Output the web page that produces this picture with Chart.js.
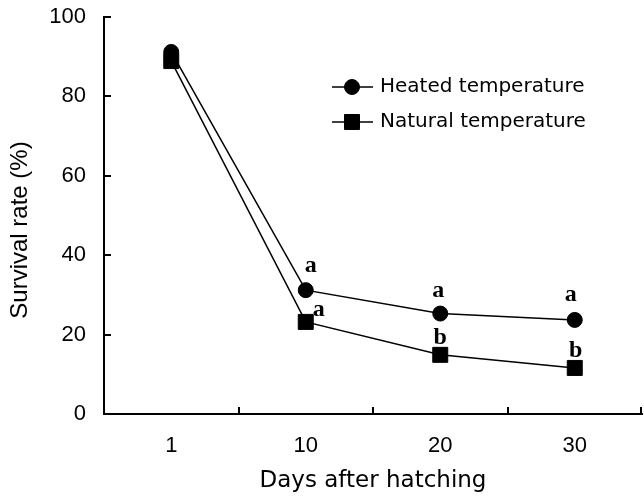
<!DOCTYPE html>
<html><head><meta charset="utf-8">
<script src="https://cdn.jsdelivr.net/npm/chart.js@4"></script>
<style>html,body{margin:0;padding:0;background:#fff;} canvas{display:block;}</style>
</head><body>
<canvas id="c" width="644" height="497"></canvas>
<script>
// ---- data ----
const categories = ['1', '10', '20', '30'];
const heated = [91.2, 31.2, 25.3, 23.7];
const natural = [88.9, 23.2, 14.9, 11.6];
const heatedLetters = ['', 'a', 'a', 'a'];
const naturalLetters = ['', 'a', 'b', 'b'];
const yTicks = [0, 20, 40, 60, 80, 100];
const seriesNames = ['Heated temperature', 'Natural temperature'];
const yTitle = 'Survival rate (%)';
const xTitle = 'Days after hatching';

// ---- style ----
const letterOffsets = [
  [[0, 0], [5, -18], [-2, -17], [-4, -19]],
  [[0, 0], [13, -6], [0, -11], [1, -11]]
];
const tickFont = {family: '"Liberation Sans", Arial, sans-serif', size: 22};

const axisTicksPlugin = {
  id: 'axisTicks',
  afterDraw(chart) {
    const {ctx, chartArea, scales} = chart;
    const x = scales.x, y = scales.y;
    ctx.save();
    ctx.strokeStyle = '#000';
    ctx.lineWidth = 2;
    ctx.beginPath();
    yTicks.forEach(v => {
      const py = Math.round(y.getPixelForValue(v));
      ctx.moveTo(chartArea.left, py);
      ctx.lineTo(chartArea.left + 7, py);
    });
    for (let i = 0; i < categories.length; i++) {
      let px;
      if (i < categories.length - 1) px = (x.getPixelForValue(i) + x.getPixelForValue(i + 1)) / 2;
      else px = chartArea.right - 1;
      px = Math.round(px);
      ctx.moveTo(px, chartArea.bottom);
      ctx.lineTo(px, chartArea.bottom - 7);
    }
    ctx.stroke();

    // significance letters
    ctx.fillStyle = '#000';
    ctx.font = 'bold 24px "Liberation Serif", "Times New Roman", serif';
    ctx.textAlign = 'center';
    ctx.textBaseline = 'alphabetic';
    [heatedLetters, naturalLetters].forEach((letters, di) => {
      const data = chart.data.datasets[di].data;
      letters.forEach((t, i) => {
        if (!t) return;
        const px = x.getPixelForValue(i) + letterOffsets[di][i][0];
        const py = y.getPixelForValue(data[i]) + letterOffsets[di][i][1];
        ctx.fillText(t, px, py);
      });
    });

    // y title
    ctx.save();
    ctx.translate(20, 230);
    ctx.rotate(-Math.PI / 2);
    ctx.font = '24px "Liberation Sans", Arial, sans-serif';
    ctx.textAlign = 'center';
    ctx.textBaseline = 'middle';
    ctx.fillText(yTitle, 0, 0);
    ctx.restore();

    // legend
    chart.data.datasets.forEach((ds, i) => {
      const ly = 87 + i * 35;
      ctx.beginPath();
      ctx.lineWidth = 1.5;
      ctx.moveTo(332, ly);
      ctx.lineTo(373, ly);
      ctx.stroke();
      ctx.fillStyle = '#000';
      ctx.strokeStyle = '#000';
      ctx.lineWidth = 1;
      Chart.helpers.drawPoint(ctx, {pointStyle: ds.pointStyle, radius: ds.pointRadius, rotation: 0, borderWidth: 1}, 352, ly);
      ctx.font = '20px "DejaVu Sans", sans-serif';
      ctx.textAlign = 'left';
      ctx.textBaseline = 'middle';
      ctx.fillText(ds.label, 380, ly);
    });
    ctx.restore();
  }
};

new Chart(document.getElementById('c'), {
  type: 'line',
  data: {
    labels: categories,
    datasets: [
      {label: seriesNames[0], data: heated, borderColor: '#000', backgroundColor: '#000',
       borderWidth: 1.5, pointStyle: 'circle', pointRadius: 7.5, pointBackgroundColor: '#000',
       pointBorderColor: '#000', pointBorderWidth: 1, tension: 0, fill: false},
      {label: seriesNames[1], data: natural, borderColor: '#000', backgroundColor: '#000',
       borderWidth: 1.5, pointStyle: 'rect', pointRadius: 10.6, pointBackgroundColor: '#000',
       pointBorderColor: '#000', pointBorderWidth: 1, tension: 0, fill: false}
    ]
  },
  options: {
    responsive: false,
    animation: false,
    events: [],
    layout: {autoPadding: false, padding: {left: 0, top: 17, right: 2, bottom: 0}},
    plugins: {legend: {display: false}, tooltip: {enabled: false}},
    scales: {
      x: {
        type: 'category',
        offset: true,
        grid: {display: false, drawTicks: false},
        border: {display: true, color: '#000', width: 2},
        ticks: {font: tickFont, color: '#000', padding: 19, maxRotation: 0},
        title: {display: true, text: xTitle, color: '#000',
                font: {family: '"DejaVu Sans", sans-serif', size: 23}, padding: {top: 0, bottom: 2}},
        afterFit(s) { s.height = 83; s.paddingLeft = 0; s.paddingRight = 0; }
      },
      y: {
        min: 0, max: 100,
        afterBuildTicks(s) { s.ticks = yTicks.map(v => ({value: v})); },
        grid: {display: false, drawTicks: false},
        border: {display: true, color: '#000', width: 2},
        ticks: {font: tickFont, color: '#000', padding: 18},
        afterFit(s) { s.width = 104; s.paddingTop = 0; s.paddingBottom = 0; }
      }
    }
  },
  plugins: [axisTicksPlugin]
});
</script>
</body></html>
